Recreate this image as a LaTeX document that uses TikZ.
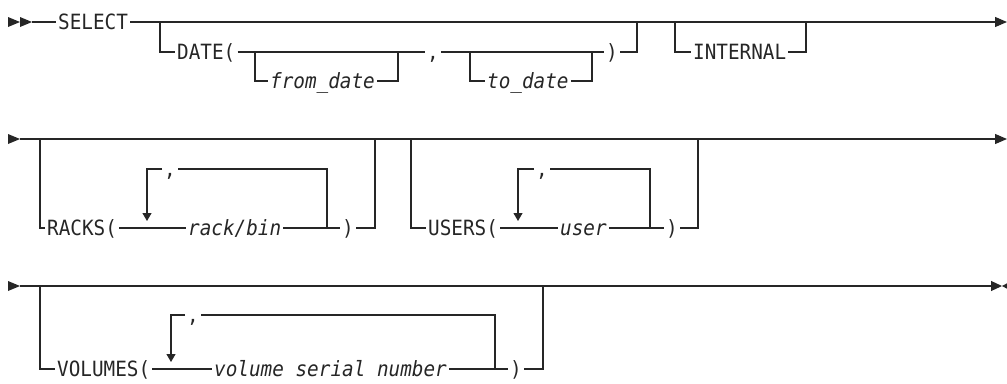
\documentclass[tikz,border=0pt]{standalone}
\usepackage{fontspec}
\newfontfamily\railfont[FakeStretch=0.92]{DejaVu Sans Mono}
\usetikzlibrary{arrows.meta}

\tikzset{
  rail/.style={line width=1.1pt, draw=black!85},
  kw/.style={font=\railfont\fontsize{21}{21}\selectfont, text=black!85,
    anchor=west, inner xsep=2pt, inner ysep=0pt,
    text height=15.3pt, text depth=0pt},
  var/.style={kw, font=\railfont\itshape\fontsize{21}{21}\selectfont},
  rep/.style={rail, -{Triangle[length=8pt,width=9pt]}},
  cont/.style={rail, -{Triangle[length=12pt,width=10pt]}},
  mark/.style={fill=black!85}
}

\begin{document}
\begin{tikzpicture}[x=1pt,y=-1pt]
  \useasboundingbox (0,0) rectangle (1007,383);

  % first line: SELECT, DATE(...), INTERNAL
  \foreach \x in {8,20}
    \fill[black!85] (\x,17) -- (\x+12,22) -- (\x,27) -- cycle;
  \coordinate (s1) at (32,22);
  \coordinate (e1) at (1007,22);
  \node[kw] (select) at (56,22) {SELECT};
  \draw[rail] (s1) -- (select.west);
  \draw[cont] (select.east) -- (e1);

  \coordinate (date0) at (160,22);
  \coordinate (date1) at (637,22);
  \node[kw] (date) at (175,52) {DATE(};
  \node[kw] (dcomma) at (425,52) {,};
  \node[kw] (dparen) at (604,52) {)};
  \draw[rail] (date0) |- (date.west);
  \draw[rail] (date.east) -- (dcomma.west);
  \draw[rail] (dcomma.east) -- (dparen.west);
  \draw[rail] (dparen.east) -| (date1);

  \coordinate (from0) at (255,52);
  \coordinate (from1) at (398,52);
  \node[var] (from) at (268,81) {from\_date};
  \draw[rail] (from0) |- (from.west);
  \draw[rail] (from.east) -| (from1);

  \coordinate (to0) at (470,52);
  \coordinate (to1) at (592,52);
  \node[var] (to) at (485,81) {to\_date};
  \draw[rail] (to0) |- (to.west);
  \draw[rail] (to.east) -| (to1);

  \coordinate (int0) at (675,22);
  \coordinate (int1) at (806,22);
  \node[kw] (internal) at (691,52) {INTERNAL};
  \draw[rail] (int0) |- (internal.west);
  \draw[rail] (internal.east) -| (int1);

  % second line: RACKS(...), USERS(...)
  \fill[black!85] (8,134) -- (20,139) -- (8,144) -- cycle;
  \coordinate (s2) at (20,139);
  \coordinate (e2) at (1007,139);
  \draw[cont] (s2) -- (e2);

  \coordinate (racks0) at (40,139);
  \coordinate (racks1) at (375,139);
  \node[kw] (racks) at (45,228) {RACKS(};
  \node[var] (rackbin) at (186,228) {rack/bin};
  \node[kw] (rparen) at (340,228) {)};
  \node[kw] (rcomma) at (162,169) {,};
  \coordinate (rloop0) at (147,228);
  \coordinate (rloop1) at (327,228);
  \draw[rail] (racks0) |- (racks.west);
  \draw[rail] (racks.east) -- (rackbin.west);
  \draw[rail] (rackbin.east) -- (rparen.west);
  \draw[rail] (rparen.east) -| (racks1);
  \draw[rail] (rloop1) |- (rcomma.east);
  \draw[rep] (rcomma.west) -| ([yshift=7pt]rloop0);

  \coordinate (users0) at (411,139);
  \coordinate (users1) at (698,139);
  \node[kw] (users) at (426,228) {USERS(};
  \node[var] (user) at (558,228) {user};
  \node[kw] (uparen) at (664,228) {)};
  \node[kw] (ucomma) at (534,169) {,};
  \coordinate (uloop0) at (518,228);
  \coordinate (uloop1) at (650,228);
  \draw[rail] (users0) |- (users.west);
  \draw[rail] (users.east) -- (user.west);
  \draw[rail] (user.east) -- (uparen.west);
  \draw[rail] (uparen.east) -| (users1);
  \draw[rail] (uloop1) |- (ucomma.east);
  \draw[rep] (ucomma.west) -| ([yshift=7pt]uloop0);

  % third line: VOLUMES(...)
  \fill[black!85] (8,281) -- (20,286) -- (8,291) -- cycle;
  \coordinate (s3) at (20,286);
  \coordinate (e3) at (1002,286);
  \draw[rail, -{Triangle[length=11pt,width=10pt]}] (s3) -- (e3);
  \fill[black!85] (1002,286) -- (1007,283.3) -- (1007,288.7) -- cycle;

  \coordinate (vols0) at (40,286);
  \coordinate (vols1) at (543,286);
  \node[kw] (volumes) at (55,369) {VOLUMES(};
  \node[var] (volser) at (212,369) {volume serial number};
  \node[kw] (vparen) at (508,369) {)};
  \node[kw] (vcomma) at (185,315) {,};
  \coordinate (vloop0) at (171,369);
  \coordinate (vloop1) at (495,369);
  \draw[rail] (vols0) |- (volumes.west);
  \draw[rail] (volumes.east) -- (volser.west);
  \draw[rail] (volser.east) -- (vparen.west);
  \draw[rail] (vparen.east) -| (vols1);
  \draw[rail] (vloop1) |- (vcomma.east);
  \draw[rep] (vcomma.west) -| ([yshift=7pt]vloop0);
  \coordinate (bar0) at (545,286);
  \coordinate (bar1) at (572,286);
  \draw[line width=2pt, black!85] (bar0) -- (bar1);
\end{tikzpicture}
\end{document}
